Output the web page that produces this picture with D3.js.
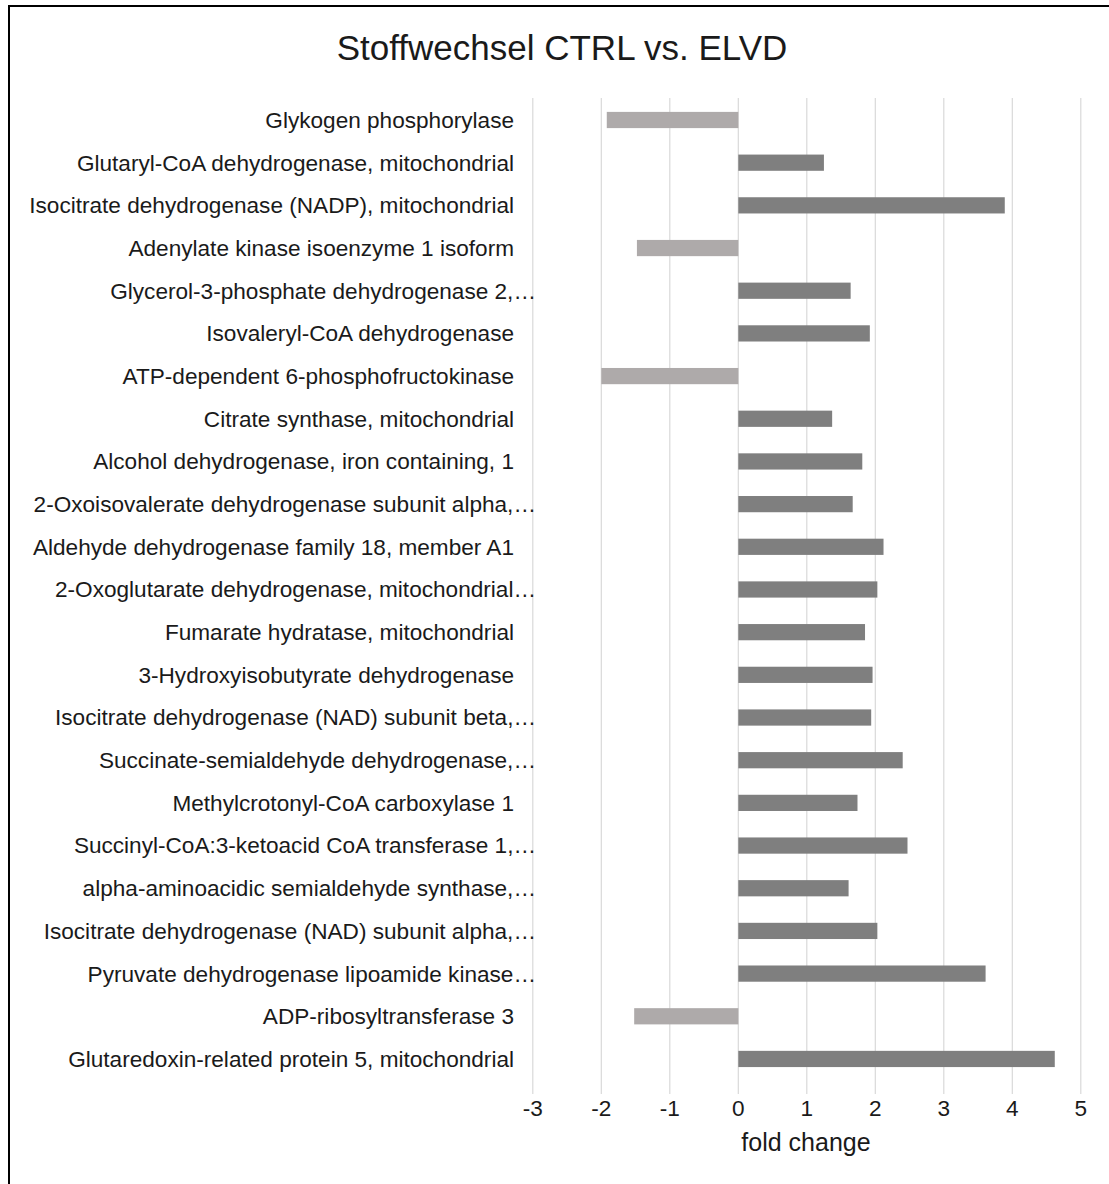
<!DOCTYPE html>
<html>
<head>
<meta charset="utf-8">
<script src="https://cdn.jsdelivr.net/npm/d3@7/dist/d3.min.js"></script>
<style>
  html, body { margin: 0; padding: 0; background: #fff; }
  svg { display: block; font-family: "Liberation Sans", Arial, sans-serif; }
</style>
</head>
<body>
<svg id="chart" width="1109" height="1184"></svg>
<script>
// Proteins (top to bottom) and their fold change CTRL vs. ELVD
const proteins = [
  "Glykogen phosphorylase",
  "Glutaryl-CoA dehydrogenase, mitochondrial",
  "Isocitrate dehydrogenase (NADP), mitochondrial",
  "Adenylate kinase isoenzyme 1 isoform",
  "Glycerol-3-phosphate dehydrogenase 2,…",
  "Isovaleryl-CoA dehydrogenase",
  "ATP-dependent 6-phosphofructokinase",
  "Citrate synthase, mitochondrial",
  "Alcohol dehydrogenase, iron containing, 1",
  "2-Oxoisovalerate dehydrogenase subunit alpha,…",
  "Aldehyde dehydrogenase family 18, member A1",
  "2-Oxoglutarate dehydrogenase, mitochondrial…",
  "Fumarate hydratase, mitochondrial",
  "3-Hydroxyisobutyrate dehydrogenase",
  "Isocitrate dehydrogenase (NAD) subunit beta,…",
  "Succinate-semialdehyde dehydrogenase,…",
  "Methylcrotonyl-CoA carboxylase 1",
  "Succinyl-CoA:3-ketoacid CoA transferase 1,…",
  "alpha-aminoacidic semialdehyde synthase,…",
  "Isocitrate dehydrogenase (NAD) subunit alpha,…",
  "Pyruvate dehydrogenase lipoamide kinase…",
  "ADP-ribosyltransferase 3",
  "Glutaredoxin-related protein 5, mitochondrial"
];

const foldChange = [
  -1.92, 1.25, 3.89, -1.48, 1.64, 1.92, -2.00, 1.37, 1.81, 1.67, 2.12, 2.03,
  1.85, 1.96, 1.94, 2.40, 1.74, 2.47, 1.61, 2.03, 3.61, -1.52, 4.62
];

const xTicks = [-3, -2, -1, 0, 1, 2, 3, 4, 5];

const chartTitle = "Stoffwechsel CTRL vs. ELVD";
const xTitle = "fold change";

const svg = d3.select("#chart");

svg.append("rect").attr("width", 1109).attr("height", 1184).attr("fill", "#fff");

// outer chart frame
svg.append("path")
  .attr("d", "M9,1190V6H1115")
  .attr("fill", "none")
  .attr("stroke", "#000")
  .attr("stroke-width", 2);

const x = d3.scaleLinear().domain([-3, 5]).range([532.8, 1080.8]);

const y = d3.scaleBand()
  .domain(proteins)
  .range([98.66, 1080.3])
  .paddingInner(0.62)
  .paddingOuter(0.31);

// vertical gridlines
svg.append("g")
  .selectAll("line")
  .data(xTicks)
  .join("line")
  .attr("x1", d => x(d)).attr("x2", d => x(d))
  .attr("y1", 98).attr("y2", 1094)
  .attr("stroke", "#d9d9d9")
  .attr("stroke-width", 1.2);

// bars
svg.append("g")
  .selectAll("rect")
  .data(proteins.map((p, i) => ({ p, v: foldChange[i] })))
  .join("rect")
  .attr("x", d => x(Math.min(0, d.v)))
  .attr("width", d => Math.abs(x(d.v) - x(0)))
  .attr("y", d => y(d.p))
  .attr("height", y.bandwidth())
  .attr("fill", d => d.v < 0 ? "#aeaaaa" : "#7f7f7f");

// category labels (shortened names run up to the plot edge)
svg.append("g")
  .selectAll("text")
  .data(proteins)
  .join("text")
  .attr("x", d => d.endsWith("…") ? 536 : 514)
  .attr("y", d => y(d) + y.bandwidth() / 2)
  .attr("dy", "0.35em")
  .attr("text-anchor", "end")
  .attr("font-size", 22.6)
  .attr("fill", "#1a1a1a")
  .text(d => d);

// x axis tick labels
svg.append("g")
  .selectAll("text")
  .data(xTicks)
  .join("text")
  .attr("x", d => x(d))
  .attr("y", 1108)
  .attr("dy", "0.35em")
  .attr("text-anchor", "middle")
  .attr("font-size", 22.6)
  .attr("fill", "#1a1a1a")
  .text(d => d);

svg.append("text")
  .attr("x", 806).attr("y", 1142)
  .attr("dy", "0.35em")
  .attr("text-anchor", "middle")
  .attr("font-size", 25)
  .attr("fill", "#1a1a1a")
  .text(xTitle);

svg.append("text")
  .attr("x", 562).attr("y", 48)
  .attr("dy", "0.35em")
  .attr("text-anchor", "middle")
  .attr("font-size", 35)
  .attr("fill", "#1a1a1a")
  .text(chartTitle);
</script>
</body>
</html>
